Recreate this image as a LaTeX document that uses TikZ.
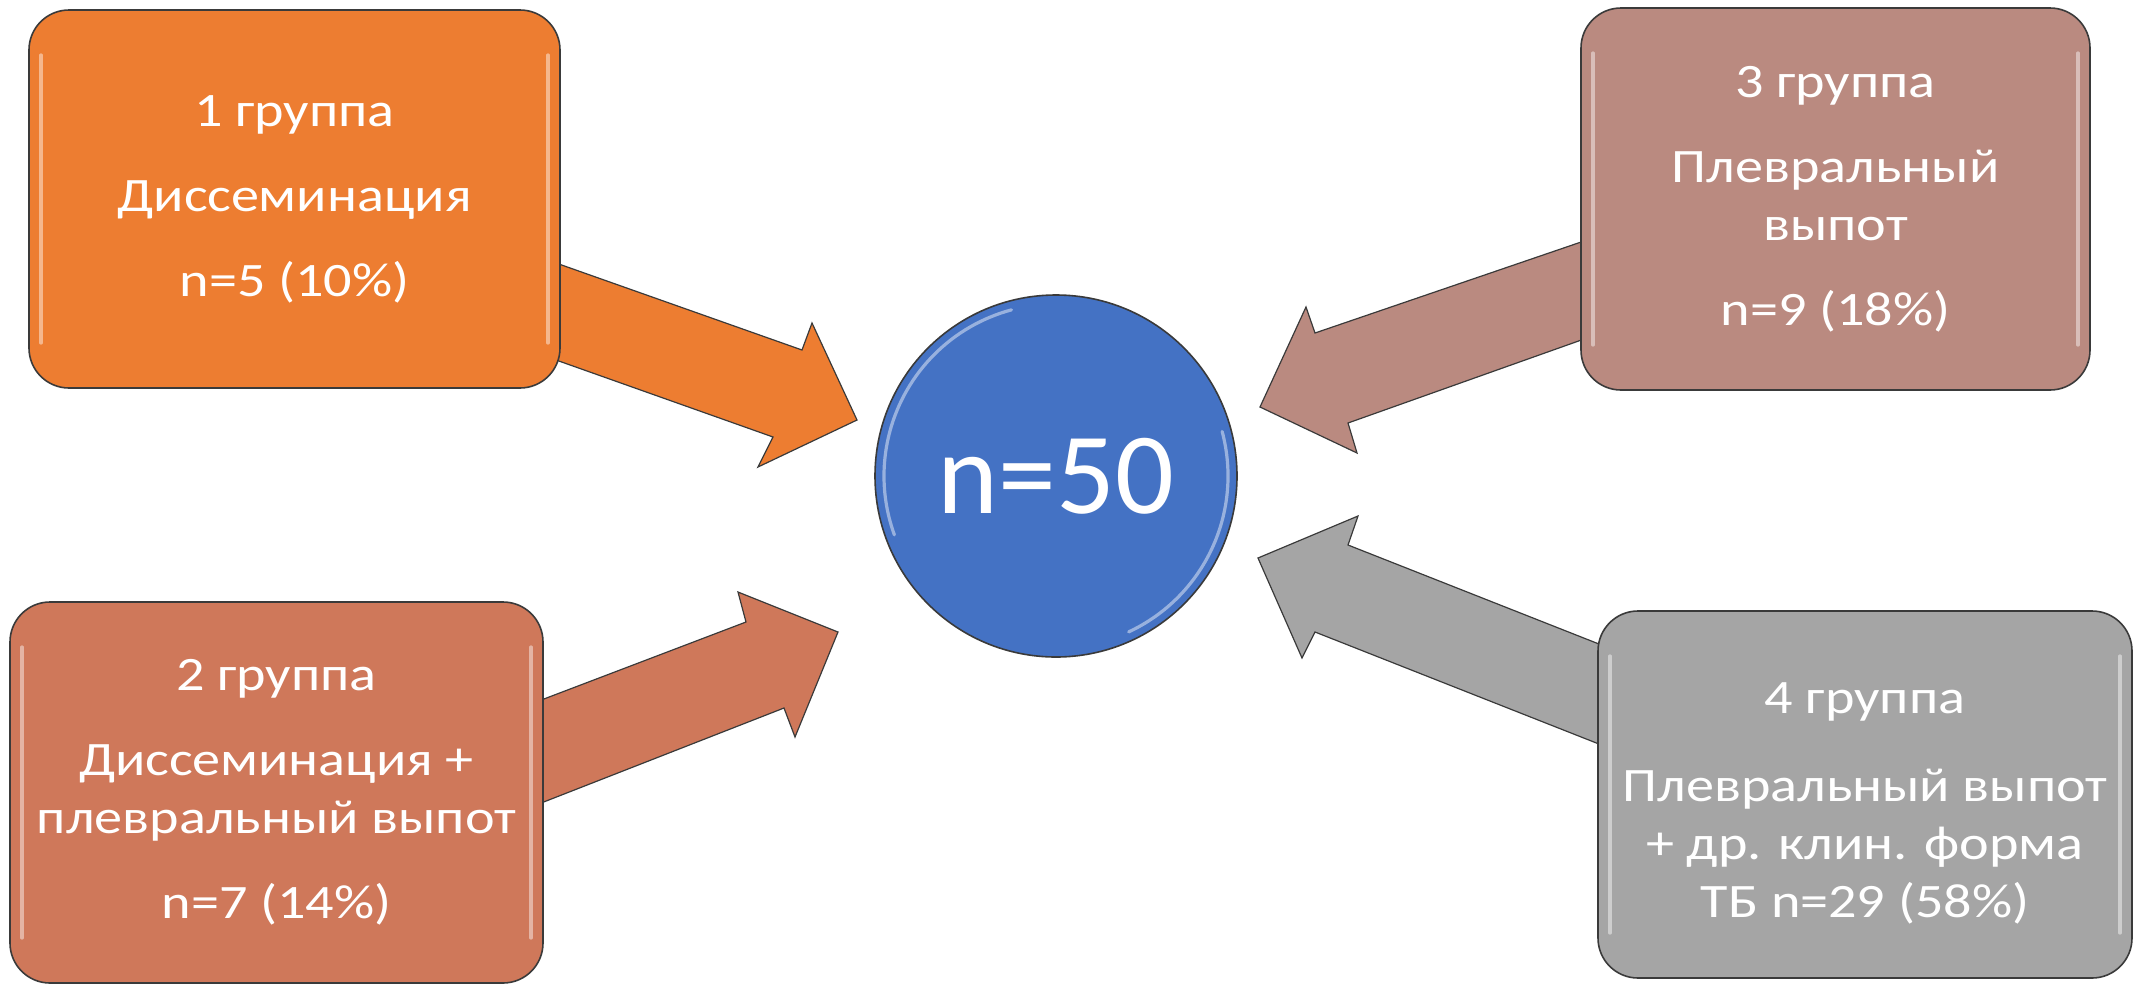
\documentclass[tikz,border=0pt]{standalone}
\usepackage{fontspec}
\setmainfont{Carlito}[FakeStretch=1.17]
\newfontfamily\circlefont{Carlito}
\usetikzlibrary{calc}
\definecolor{cone}{HTML}{ED7D31}
\definecolor{ctwo}{HTML}{CF785A}
\definecolor{cthree}{HTML}{BA8A80}
\definecolor{cfour}{HTML}{A5A5A5}
\definecolor{cblue}{HTML}{4472C4}
\definecolor{bordergray}{HTML}{3A3A3A}
\begin{document}
\begin{tikzpicture}[x=0.5pt,y=-0.5pt,
  box/.style={draw=bordergray, line width=0.8pt, rounded corners=20pt, inner sep=0pt, outer sep=0pt,
    text=white, align=center, font=\fontsize{24}{29}\selectfont},
  blockarrow/.style={draw=bordergray, line width=0.6pt, line join=miter},
  gloss/.style={draw=white, opacity=0.45, line width=1.6pt, line cap=round}]
\useasboundingbox (0,0) rectangle (2149,986);

% block arrows (behind the boxes)
\draw[blockarrow, fill=cone] (556,263) -- (802,350) -- (812,323) -- (857,420) -- (758,467) -- (773,437) -- (556,360) -- cycle;
\draw[blockarrow, fill=ctwo] (536,702) -- (746,622) -- (738,592) -- (838,632) -- (795,737) -- (784,708) -- (536,805) -- cycle;
\draw[blockarrow, fill=cthree] (1587,240) -- (1315,333) -- (1306,307) -- (1260,407) -- (1357,453) -- (1348,423) -- (1587,338) -- cycle;
\draw[blockarrow, fill=cfour] (1604,646) -- (1348,545) -- (1358,516) -- (1258,558) -- (1302,658) -- (1315,632) -- (1604,746) -- cycle;

% boxes
\node[box, fill=cone, minimum width=265.5pt, minimum height=189pt] (b1) at (294.5,199)
  {1 группа\\[13.5pt]Диссеминация\\[13.5pt]n=5 (10\%)};
\node[box, fill=ctwo, minimum width=266.5pt, minimum height=190.5pt] (b2) at (276.5,792.5)
  {2 группа\\[13.5pt]Диссеминация +\\плевральный выпот\\[13.5pt]n=7 (14\%)};
\node[box, fill=cthree, minimum width=254.5pt, minimum height=191pt] (b3) at (1835.5,199)
  {3 группа\\[13.5pt]Плевральный\\выпот\\[13.5pt]n=9 (18\%)};
\node[box, fill=cfour, minimum width=267pt, minimum height=183.5pt] (b4) at (1865,794.5)
  {\rule{0pt}{24pt}4 группа\\[15pt]Плевральный выпот\\+ др. клин. форма\\ТБ n=29 (58\%)};

% gloss highlights on boxes
\foreach \b in {b1,b2,b3,b4}{
  \draw[gloss] ($(\b.north west)+(12,45)$) -- ($(\b.south west)+(12,-45)$);
  \draw[gloss] ($(\b.north east)+(-12,45)$) -- ($(\b.south east)+(-12,-45)$);
}

% centre circle
\node[circle, draw=bordergray, line width=0.8pt, fill=cblue, minimum size=181pt, inner sep=0pt,
  text=white, font=\circlefont\fontsize{58}{70}\selectfont] (c) at (1056,476) {n=50};
\draw[gloss] ($(c.center)+(105:86pt)$) arc[start angle=105, end angle=200, radius=86pt];
\draw[gloss] ($(c.center)+(-65:86pt)$) arc[start angle=-65, end angle=15, radius=86pt];
\end{tikzpicture}
\end{document}
